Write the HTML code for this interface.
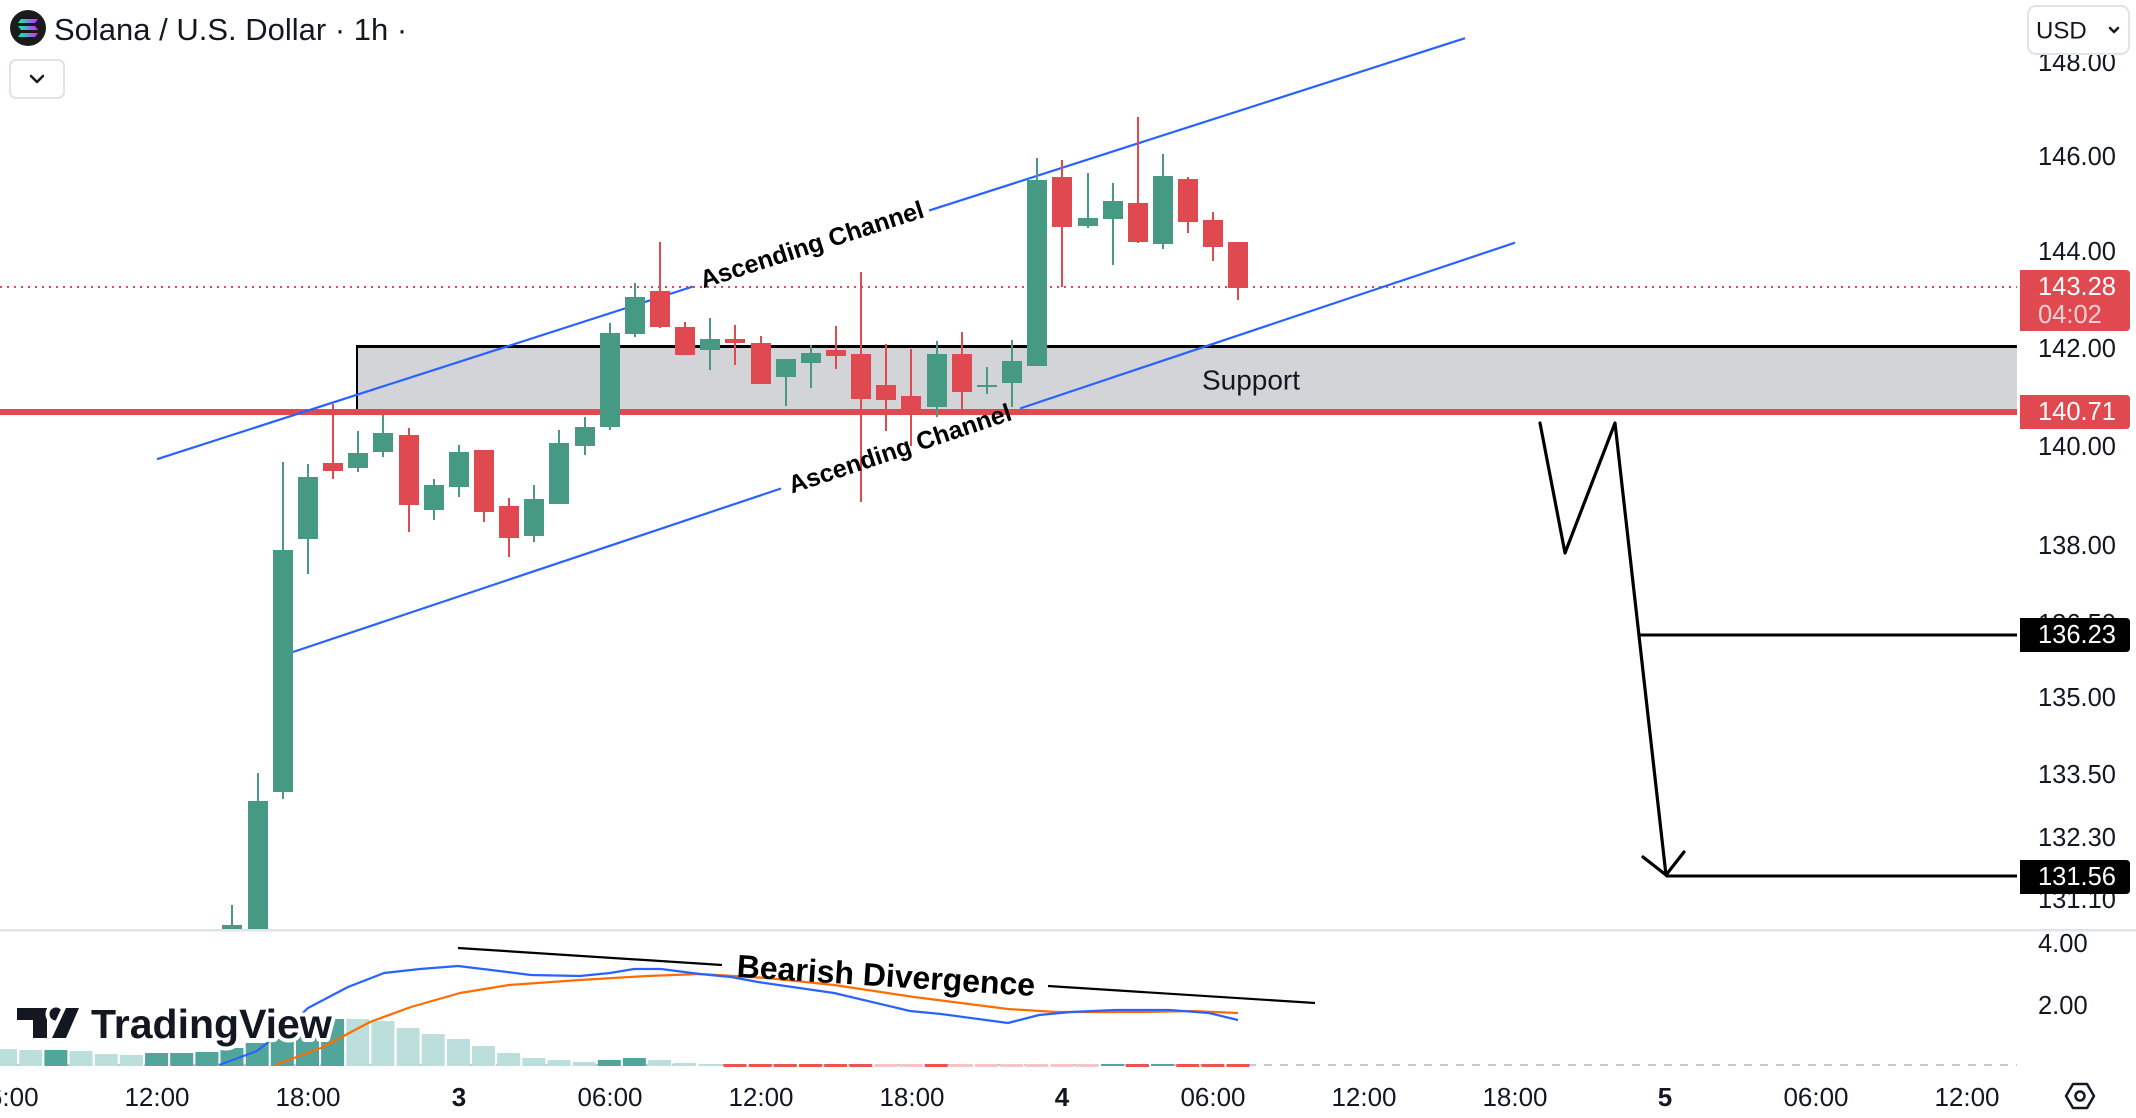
<!DOCTYPE html>
<html><head><meta charset="utf-8"><style>html,body{margin:0;padding:0;background:#fff;}svg{display:block}</style></head>
<body>
<svg width="2136" height="1118" viewBox="0 0 2136 1118" xmlns="http://www.w3.org/2000/svg" font-family="'Liberation Sans', Arial, sans-serif">
<defs>
<clipPath id="main"><rect x="0" y="0" width="2017" height="929"/></clipPath>
<clipPath id="low"><rect x="0" y="932" width="2017" height="136"/></clipPath>
<linearGradient id="sol" x1="0" y1="0" x2="1" y2="0"><stop offset="0" stop-color="#00ffa3"/><stop offset="1" stop-color="#dc1fff"/></linearGradient>
</defs>
<rect width="2136" height="1118" fill="#fff"/>

<g clip-path="url(#main)">
  <line x1="0" y1="287" x2="2017" y2="287" stroke="#e0494f" stroke-width="2" stroke-dasharray="2 5"/>
  <rect x="357" y="346" width="1660" height="64" fill="#d3d4d7"/>
  <rect x="357" y="345" width="1660" height="3" fill="#000"/>
  <rect x="356" y="345" width="2" height="65" fill="#000"/>
  <rect x="0" y="409" width="2017" height="6" fill="#e0494f"/>

  <g stroke="#2962ff" stroke-width="2.2" fill="none">
    <line x1="157" y1="459.2" x2="693" y2="286.5"/>
    <line x1="929" y1="210.6" x2="1465" y2="38.2"/>
    <line x1="293" y1="652" x2="781" y2="488.5"/>
    <line x1="1020" y1="408.5" x2="1515" y2="242.7"/>
  </g>

  <g fill="#469983">
    <rect x="231" y="905" width="2" height="26"/><rect x="222" y="925" width="20" height="6"/>
    <rect x="257" y="773" width="2" height="158"/><rect x="248" y="801" width="20" height="130"/>
    <rect x="282" y="462" width="2" height="337"/><rect x="273" y="550" width="20" height="242"/>
    <rect x="307" y="464" width="2" height="110"/><rect x="298" y="477" width="20" height="62"/>
    <rect x="357" y="431" width="2" height="41"/><rect x="348" y="453" width="20" height="15"/>
    <rect x="382" y="415" width="2" height="42"/><rect x="373" y="433" width="20" height="19"/>
    <rect x="433" y="479" width="2" height="41"/><rect x="424" y="485" width="20" height="25"/>
    <rect x="458" y="445" width="2" height="52"/><rect x="449" y="452" width="20" height="35"/>
    <rect x="533" y="485" width="2" height="57"/><rect x="524" y="499" width="20" height="37"/>
    <rect x="558" y="430" width="2" height="74"/><rect x="549" y="443" width="20" height="61"/>
    <rect x="584" y="417" width="2" height="38"/><rect x="575" y="427" width="20" height="19"/>
    <rect x="609" y="323" width="2" height="107"/><rect x="600" y="333" width="20" height="94"/>
    <rect x="634" y="283" width="2" height="54"/><rect x="625" y="297" width="20" height="37"/>
    <rect x="709" y="318" width="2" height="52"/><rect x="700" y="339" width="20" height="11"/>
    <rect x="785" y="359" width="2" height="47"/><rect x="776" y="359" width="20" height="18"/>
    <rect x="810" y="345" width="2" height="43"/><rect x="801" y="353" width="20" height="10"/>
    <rect x="936" y="341" width="2" height="76"/><rect x="927" y="354" width="20" height="53"/>
    <rect x="986" y="367" width="2" height="27"/><rect x="977" y="385" width="20" height="2"/>
    <rect x="1011" y="340" width="2" height="67"/><rect x="1002" y="361" width="20" height="22"/>
    <rect x="1036" y="158" width="2" height="208"/><rect x="1027" y="180" width="20" height="186"/>
    <rect x="1087" y="173" width="2" height="55"/><rect x="1078" y="218" width="20" height="8"/>
    <rect x="1112" y="183" width="2" height="82"/><rect x="1103" y="201" width="20" height="18"/>
    <rect x="1162" y="154" width="2" height="95"/><rect x="1153" y="176" width="20" height="68"/>
  </g>
  <g fill="#e0494f">
    <rect x="332" y="404" width="2" height="75"/><rect x="323" y="463" width="20" height="8"/>
    <rect x="408" y="428" width="2" height="104"/><rect x="399" y="435" width="20" height="70"/>
    <rect x="483" y="450" width="2" height="72"/><rect x="474" y="450" width="20" height="62"/>
    <rect x="508" y="498" width="2" height="59"/><rect x="499" y="506" width="20" height="32"/>
    <rect x="659" y="242" width="2" height="86"/><rect x="650" y="291" width="20" height="36"/>
    <rect x="684" y="322" width="2" height="33"/><rect x="675" y="327" width="20" height="28"/>
    <rect x="734" y="325" width="2" height="40"/><rect x="725" y="339" width="20" height="4"/>
    <rect x="760" y="336" width="2" height="48"/><rect x="751" y="343" width="20" height="41"/>
    <rect x="835" y="326" width="2" height="43"/><rect x="826" y="350" width="20" height="6"/>
    <rect x="860" y="272" width="2" height="230"/><rect x="851" y="354" width="20" height="45"/>
    <rect x="885" y="344" width="2" height="87"/><rect x="876" y="385" width="20" height="15"/>
    <rect x="910" y="349" width="2" height="97"/><rect x="901" y="396" width="20" height="15"/>
    <rect x="961" y="332" width="2" height="78"/><rect x="952" y="354" width="20" height="38"/>
    <rect x="1061" y="160" width="2" height="127"/><rect x="1052" y="177" width="20" height="50"/>
    <rect x="1137" y="117" width="2" height="126"/><rect x="1128" y="203" width="20" height="39"/>
    <rect x="1187" y="177" width="2" height="56"/><rect x="1178" y="179" width="20" height="43"/>
    <rect x="1212" y="212" width="2" height="49"/><rect x="1203" y="220" width="20" height="27"/>
    <rect x="1237" y="242" width="2" height="58"/><rect x="1228" y="242" width="20" height="46"/>
  </g>

  <text transform="translate(812,245) rotate(-17.84)" text-anchor="middle" dominant-baseline="central" font-size="25" font-weight="bold" fill="#000">Ascending Channel</text>
  <text transform="translate(900,449) rotate(-18.52)" text-anchor="middle" dominant-baseline="central" font-size="25" font-weight="bold" fill="#000">Ascending Channel</text>
  <text x="1251" y="380" text-anchor="middle" dominant-baseline="central" font-size="28" fill="#131722">Support</text>

  <polyline points="1540,423 1565,553 1615,423 1666,875" fill="none" stroke="#000" stroke-width="3.2" stroke-linejoin="round" stroke-linecap="round"/>
  <polyline points="1643,857 1666,875 1684,852" fill="none" stroke="#000" stroke-width="3.2" stroke-linecap="round"/>
  <line x1="1640" y1="635" x2="2017" y2="635" stroke="#000" stroke-width="3"/>
  <line x1="1666" y1="876" x2="2017" y2="876" stroke="#000" stroke-width="3"/>
</g>

<!-- title -->
<circle cx="28" cy="28" r="18" fill="#1b1b1f"/>
<polygon points="21,19 38,19 35,23 18,23" fill="url(#sol)"/>
<polygon points="18,26 35,26 38,30 21,30" fill="url(#sol)"/>
<polygon points="21,33 38,33 35,37 18,37" fill="url(#sol)"/>
<text x="54" y="40" font-size="31" fill="#131722">Solana / U.S. Dollar · 1h ·</text>
<rect x="10" y="60" width="54" height="38" rx="6" fill="#fff" stroke="#e0e3eb" stroke-width="2"/>
<polyline points="31,76 37,82 43,76" fill="none" stroke="#131722" stroke-width="2.5" stroke-linecap="round" stroke-linejoin="round"/>

<!-- price axis -->
<g font-size="25.5" fill="#131722" dominant-baseline="central">
  <text x="2038" y="63">148.00</text>
  <text x="2038" y="157">146.00</text>
  <text x="2038" y="252">144.00</text>
  <text x="2038" y="349">142.00</text>
  <text x="2038" y="447">140.00</text>
  <text x="2038" y="546">138.00</text>
  <text x="2038" y="624">136.50</text>
  <text x="2038" y="698">135.00</text>
  <text x="2038" y="775">133.50</text>
  <text x="2038" y="838">132.30</text>
  <text x="2038" y="900">131.10</text>
  <text x="2038" y="944">4.00</text>
  <text x="2038" y="1006">2.00</text>
</g>
<rect x="2028" y="6" width="101" height="48" rx="8" fill="#fff" stroke="#e0e3eb" stroke-width="2"/>
<text x="2036" y="31" font-size="24" fill="#131722" dominant-baseline="central">USD</text>
<polyline points="2110,28 2114,32 2118,28" fill="none" stroke="#131722" stroke-width="2.5" stroke-linecap="round" stroke-linejoin="round"/>

<path d="M2020,270 H2126 Q2130,270 2130,274 V327 Q2130,331 2126,331 H2020 Z" fill="#e0494f"/>
<text x="2038" y="287" font-size="25.5" fill="#fff" dominant-baseline="central">143.28</text>
<text x="2038" y="315" font-size="25.5" fill="#fff" fill-opacity="0.75" dominant-baseline="central">04:02</text>
<path d="M2020,395 H2126 Q2130,395 2130,399 V425 Q2130,429 2126,429 H2020 Z" fill="#e0494f"/>
<text x="2038" y="412" font-size="25.5" fill="#fff" dominant-baseline="central">140.71</text>
<path d="M2020,618 H2126 Q2130,618 2130,622 V648 Q2130,652 2126,652 H2020 Z" fill="#000"/>
<text x="2038" y="635" font-size="25.5" fill="#fff" dominant-baseline="central">136.23</text>
<path d="M2020,860 H2126 Q2130,860 2130,864 V890 Q2130,894 2126,894 H2020 Z" fill="#000"/>
<text x="2038" y="877" font-size="25.5" fill="#fff" dominant-baseline="central">131.56</text>

<!-- separator -->
<rect x="0" y="929" width="2136" height="2.5" fill="#e0e3eb"/>

<!-- lower pane -->
<g clip-path="url(#low)">
  <line x1="0" y1="1065" x2="2017" y2="1065" stroke="#b2b5be" stroke-width="1.5" stroke-dasharray="8 8"/>
  <g fill="#bcdfdc">
    <rect x="-6" y="1049" width="23" height="17"/>
    <rect x="19.3" y="1050" width="23" height="16"/>
    <rect x="69.6" y="1051" width="23" height="15"/>
    <rect x="94.7" y="1054" width="23" height="12"/>
    <rect x="119.9" y="1055" width="23" height="11"/>
    <rect x="346.3" y="1019" width="23" height="47"/>
    <rect x="371.4" y="1021" width="23" height="45"/>
    <rect x="396.6" y="1028" width="23" height="38"/>
    <rect x="421.7" y="1034" width="23" height="32"/>
    <rect x="446.9" y="1039" width="23" height="27"/>
    <rect x="472" y="1046" width="23" height="20"/>
    <rect x="497.2" y="1053" width="23" height="13"/>
    <rect x="522.3" y="1058" width="23" height="8"/>
    <rect x="547.5" y="1060" width="23" height="6"/>
    <rect x="572.6" y="1062" width="23" height="4"/>
    <rect x="648.1" y="1060" width="23" height="6"/>
    <rect x="673.2" y="1063" width="23" height="3"/>
    <rect x="698.4" y="1064" width="23" height="2"/>
  </g>
  <g fill="#52a59b">
    <rect x="44.4" y="1050" width="23" height="16"/>
    <rect x="145.1" y="1053" width="23" height="13"/>
    <rect x="170.2" y="1053" width="23" height="13"/>
    <rect x="195.4" y="1052" width="23" height="14"/>
    <rect x="220.5" y="1048" width="23" height="18"/>
    <rect x="245.7" y="1043" width="23" height="23"/>
    <rect x="270.8" y="1039" width="23" height="27"/>
    <rect x="296" y="1034" width="23" height="32"/>
    <rect x="321.1" y="1019" width="23" height="47"/>
    <rect x="597.8" y="1060" width="23" height="6"/>
    <rect x="622.9" y="1058" width="23" height="8"/>
    <rect x="1101" y="1064" width="23" height="2"/>
    <rect x="1151" y="1064" width="23" height="2"/>
  </g>
  <g fill="#ef5350">
    <rect x="723.5" y="1064" width="23" height="3"/>
    <rect x="748.7" y="1064" width="23" height="3"/>
    <rect x="773.8" y="1064" width="23" height="3"/>
    <rect x="799" y="1064" width="23" height="3"/>
    <rect x="824.1" y="1064" width="23" height="3"/>
    <rect x="849.3" y="1064" width="23" height="3"/>
    <rect x="924.7" y="1064" width="23" height="3"/>
    <rect x="1125.9" y="1064" width="23" height="3"/>
    <rect x="1176.2" y="1064" width="23" height="3"/>
    <rect x="1201.4" y="1064" width="23" height="3"/>
    <rect x="1226.5" y="1064" width="23" height="3"/>
  </g>
  <g fill="#f7c5c7">
    <rect x="874.4" y="1064" width="23" height="3"/>
    <rect x="899.6" y="1064" width="23" height="3"/>
    <rect x="949.9" y="1064" width="23" height="3"/>
    <rect x="975" y="1064" width="23" height="3"/>
    <rect x="1000.2" y="1064" width="23" height="3"/>
    <rect x="1025.3" y="1064" width="23" height="3"/>
    <rect x="1050.5" y="1064" width="23" height="3"/>
    <rect x="1075.6" y="1064" width="23" height="3"/>
  </g>
  <polyline fill="none" stroke="#ff6d00" stroke-width="2.2" stroke-linejoin="round" points="275,1065 321,1048 370,1022 411,1007 460,993 509,985 580,980 647,976 700,974 767,978 834,985 914,997 1008,1009 1057,1012 1146,1012 1191,1011 1238,1013"/>
  <polyline fill="none" stroke="#2962ff" stroke-width="2.2" stroke-linejoin="round" points="219,1065 257,1051 290,1025 308,1008 348,987 384,973 420,969 458,966 491,970 531,975 580,976 610,973 634,969 661,969 700,974 731,977 758,982 834,993 910,1011 941,1014 1008,1023 1039,1015 1071,1012 1115,1010 1169,1010 1209,1013 1238,1020"/>
  <line x1="458" y1="948" x2="722" y2="965" stroke="#000" stroke-width="2.2"/>
  <line x1="1048" y1="986" x2="1315" y2="1003" stroke="#000" stroke-width="2.2"/>
  <text transform="translate(886,975.5) rotate(3.67)" text-anchor="middle" dominant-baseline="central" font-size="32" font-weight="bold" fill="#000">Bearish Divergence</text>
</g>

<!-- TradingView logo -->
<g stroke="#fff" stroke-width="8" stroke-linejoin="round" fill="#131722" paint-order="stroke">
  <path d="M17,1008 H47 V1038 H33 V1020 H17 Z"/>
  <circle cx="56" cy="1014" r="6.5"/>
  <path d="M66,1008 H79 L66,1038 H52 Z"/>
  <text x="91" y="1038" font-size="41" font-weight="bold">TradingView</text>
</g>

<!-- time axis -->
<g font-size="26" fill="#131722" text-anchor="middle" dominant-baseline="central">
  <text x="6" y="1097">06:00</text>
  <text x="157" y="1097">12:00</text>
  <text x="308" y="1097">18:00</text>
  <text x="459" y="1097" font-weight="bold">3</text>
  <text x="610" y="1097">06:00</text>
  <text x="761" y="1097">12:00</text>
  <text x="912" y="1097">18:00</text>
  <text x="1062" y="1097" font-weight="bold">4</text>
  <text x="1213" y="1097">06:00</text>
  <text x="1364" y="1097">12:00</text>
  <text x="1515" y="1097">18:00</text>
  <text x="1665" y="1097" font-weight="bold">5</text>
  <text x="1816" y="1097">06:00</text>
  <text x="1967" y="1097">12:00</text>
</g>
<polygon points="2066,1096 2073,1084 2087,1084 2094,1096 2087,1108 2073,1108" fill="none" stroke="#131722" stroke-width="2.5" stroke-linejoin="round"/>
<circle cx="2080" cy="1096" r="4.5" fill="none" stroke="#131722" stroke-width="2.5"/>
</svg>
</body></html>
